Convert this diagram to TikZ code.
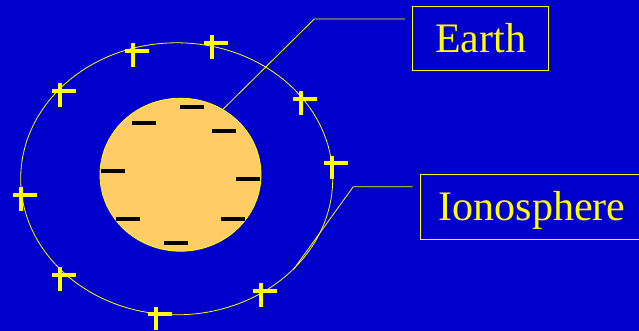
\documentclass[tikz,border=0pt]{standalone}
\usepackage{fontspec}
\setmainfont{Liberation Serif}
\usepackage{xcolor}
\usetikzlibrary{shapes.geometric}
\definecolor{slideblue}{HTML}{0000CC}
\definecolor{earthorange}{HTML}{FFCC66}
\definecolor{ionoyellow}{HTML}{FFFF00}

\begin{document}
\begin{tikzpicture}[
    x=1pt, y=1pt,
    layer/.style={draw=ionoyellow, ellipse, inner sep=0pt, line width=0.8pt},
    lbl/.style={draw=ionoyellow, line width=0.8pt, inner sep=0pt, text=ionoyellow, font=\fontsize{42}{48}\selectfont, text height=28pt, text depth=0pt, minimum height=64pt},
    negcharge/.style={fill=black, inner sep=0pt, minimum width=24pt, minimum height=4pt},
    poscharge/.style={draw=ionoyellow, line width=4pt},
    leader/.style={draw=ionoyellow, line width=0.8pt}
]
\fill[slideblue] (0,0) rectangle (639,331);
\useasboundingbox (0,0) rectangle (639,331);

\node[layer, minimum width=312pt, minimum height=272pt] (iono) at (176.7,152.2) {};
% positive charges on the ionosphere
\foreach \cx/\cy in {132.7/280.3, 212.3/288.3, 60/240.3, 300.7/232.3, 332.3/167.7,
                     20.7/136, 60.3/56, 156/16.7, 260.7/40.3}
  \draw[poscharge] (\cx-8,\cy) -- (\cx+16,\cy) (\cx,\cy+7.5) -- (\cx,\cy-16);

\node[layer, fill=earthorange, minimum width=161pt, minimum height=153pt] (earth) at (180.5,156.3) {};
% negative charges on the earth
\foreach \nx/\ny [count=\i] in {192.3/224.3, 144.3/208.3, 224.3/200.3, 112.7/160.3,
                                248.3/152.3, 128.3/112.3, 232.7/112.3, 176.3/88.3}
  \node[negcharge] (neg\i) at (\nx,\ny) {};

\node[lbl, minimum width=136pt] (earthlbl) at (480.7,292.3) {Earth};
\node[lbl, minimum width=223pt, minimum height=64.7pt] (ionolbl) at (532.2,124.35) {Ionosphere};

\coordinate (earthend) at (405,312);
\coordinate (earthbend) at (314.3,312);
\coordinate (ionoend) at (412.7,144.3);
\coordinate (ionobend) at (353.3,144.3);
\draw[leader] (earthend) -- (earthbend) -- (earth.57);
\draw[leader] (ionoend) -- (ionobend) -- (iono.-38);
\end{tikzpicture}
\end{document}
